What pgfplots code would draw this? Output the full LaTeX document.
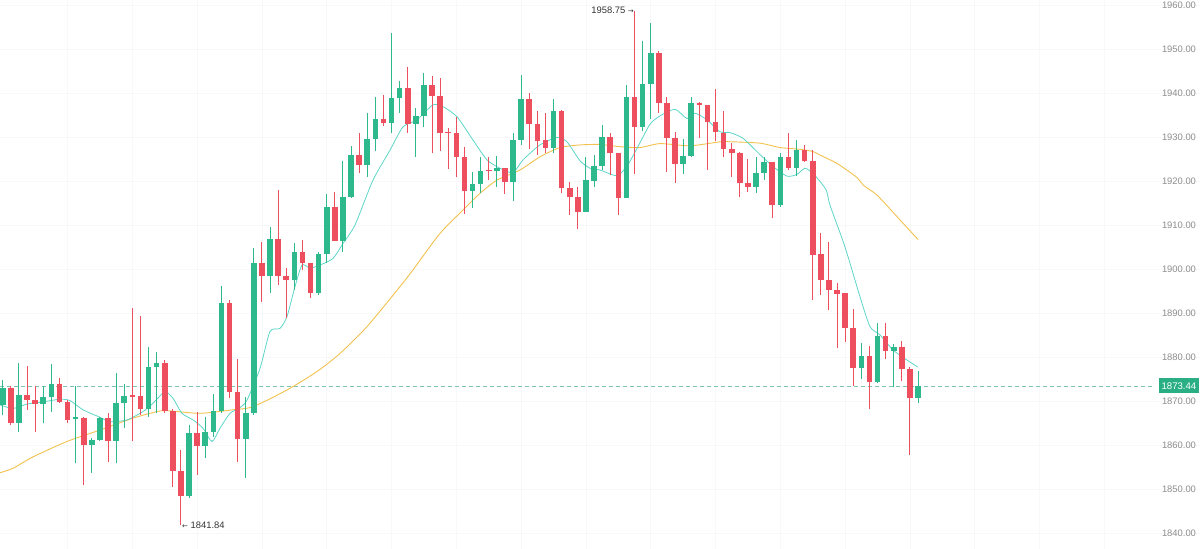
\documentclass[border=0pt]{standalone}
\usepackage{pgfplots}
\pgfplotsset{compat=1.18}
\usepackage{pgfplotstable}
\usepackage{fontspec}
\setmainfont{Liberation Sans}
\newfontfamily\dejavu{DejaVu Sans}
\definecolor{cgreen}{HTML}{2DB98B}
\definecolor{cred}{HTML}{EE4F5F}
\definecolor{cma}{HTML}{5DD5C8}
\definecolor{cyel}{HTML}{F2C14E}
\definecolor{cbox}{HTML}{2AAE84}
\definecolor{ctick}{HTML}{8C8C8C}
\definecolor{cgrid}{HTML}{F7F8F9}
\definecolor{cdash}{HTML}{7DC4B2}

% rising candles: index open high low close
\pgfplotstableread{
i o h l c
0 1869.1 1874.8 1866.8 1872.9
2 1865.1 1878.6 1863.0 1871.4
5 1869.3 1873.4 1864.9 1870.8
6 1870.8 1878.3 1867.6 1873.8
9 1865.9 1873.3 1855.8 1866.3
11 1860.0 1861.5 1853.6 1861.1
12 1861.1 1866.4 1861.0 1866.2
14 1860.9 1876.3 1855.8 1869.5
15 1869.5 1873.9 1863.8 1871.2
18 1868.1 1882.3 1866.4 1877.8
19 1877.8 1881.2 1867.2 1878.7
23 1848.4 1864.5 1847.9 1862.8
25 1859.8 1866.4 1857.0 1863.0
26 1863.0 1871.7 1861.9 1867.7
27 1867.7 1896.1 1867.2 1892.3
30 1861.3 1871.0 1852.4 1867.2
31 1867.2 1904.7 1866.8 1901.4
33 1898.4 1909.6 1894.6 1906.8
36 1897.5 1906.0 1895.2 1903.8
39 1894.5 1903.9 1894.1 1903.4
40 1903.4 1917.0 1901.4 1914.0
42 1906.4 1924.6 1903.9 1916.4
43 1916.4 1928.0 1916.2 1925.8
45 1923.6 1935.4 1921.0 1929.5
46 1929.5 1939.2 1926.9 1934.1
48 1933.1 1953.7 1930.8 1938.9
49 1938.9 1942.8 1935.5 1941.1
51 1933.0 1936.5 1925.4 1934.8
52 1934.8 1944.6 1932.2 1941.8
58 1917.8 1922.1 1913.8 1919.3
59 1919.3 1925.4 1917.2 1922.3
61 1922.2 1925.7 1918.7 1923.0
63 1919.7 1931.0 1915.5 1929.3
64 1929.3 1944.1 1928.2 1938.6
68 1927.6 1938.6 1926.3 1935.8
72 1913.0 1925.5 1913.0 1920.2
73 1920.1 1925.9 1918.7 1923.4
74 1923.4 1932.7 1922.5 1929.9
77 1916.1 1941.8 1916.1 1939.2
79 1932.3 1951.9 1931.3 1942.0
80 1942.0 1955.8 1934.2 1949.0
84 1923.9 1929.5 1921.7 1925.7
85 1925.7 1939.0 1925.5 1937.7
93 1918.7 1925.5 1917.2 1921.9
94 1921.9 1925.5 1920.2 1924.4
96 1914.5 1926.4 1914.2 1925.5
98 1922.9 1929.3 1921.1 1927.0
106 1877.4 1883.2 1874.9 1880.2
108 1874.4 1887.8 1874.0 1884.8
110 1881.4 1883.0 1873.1 1882.2
113 1870.6 1876.9 1869.5 1873.44
}\up

% falling candles: index open high low close
\pgfplotstableread{
i o h l c
1 1872.9 1873.3 1864.5 1865.1
3 1871.4 1878.0 1868.0 1870.2
4 1870.2 1873.4 1863.0 1869.3
7 1873.8 1875.2 1869.5 1869.8
8 1869.8 1870.2 1865.1 1865.7
10 1866.1 1866.4 1850.9 1860.0
13 1866.2 1867.3 1856.2 1860.9
16 1871.2 1891.1 1860.8 1871.0
17 1871.1 1889.3 1866.8 1868.1
20 1878.7 1879.3 1867.2 1867.8
21 1867.8 1868.1 1850.5 1854.2
22 1854.2 1858.9 1841.84 1848.4
24 1862.8 1867.6 1853.2 1859.8
28 1892.3 1893.0 1870.6 1872.1
29 1872.1 1879.5 1856.2 1861.3
32 1901.4 1906.2 1892.6 1898.4
34 1906.8 1918.0 1896.4 1898.4
35 1898.4 1900.2 1888.8 1897.5
37 1903.8 1906.6 1899.8 1901.3
38 1901.3 1901.3 1893.3 1894.5
41 1914.0 1917.6 1906.4 1906.4
44 1925.8 1931.0 1921.8 1923.6
47 1934.1 1939.5 1932.4 1933.1
50 1941.1 1946.0 1930.8 1933.0
53 1941.8 1943.9 1926.3 1939.4
54 1939.4 1943.3 1926.9 1930.8
55 1931.0 1932.0 1922.7 1930.8
56 1930.8 1934.5 1920.8 1925.5
57 1925.5 1927.7 1912.6 1917.8
60 1922.5 1925.5 1920.2 1922.2
62 1923.0 1923.0 1917.1 1919.7
65 1938.6 1940.1 1927.2 1932.9
66 1932.9 1935.8 1925.9 1929.2
67 1929.3 1935.4 1926.3 1927.6
69 1935.8 1936.1 1917.2 1918.3
70 1918.3 1919.8 1912.3 1916.3
71 1916.4 1918.7 1909.2 1913.0
75 1929.9 1930.8 1921.4 1926.3
76 1926.3 1926.3 1912.3 1916.1
78 1939.2 1958.75 1921.7 1932.3
81 1949.0 1949.6 1935.4 1937.7
82 1937.7 1939.2 1922.1 1929.7
83 1929.7 1931.2 1919.6 1923.9
86 1937.7 1938.0 1929.7 1937.2
87 1937.3 1937.3 1922.5 1933.3
88 1933.3 1940.8 1929.0 1931.1
89 1931.0 1935.8 1925.5 1927.2
90 1927.2 1928.6 1921.0 1926.3
91 1926.3 1926.7 1916.4 1919.5
92 1919.5 1924.9 1917.6 1918.7
95 1924.4 1924.4 1911.5 1914.5
97 1925.5 1931.0 1922.5 1922.9
99 1927.0 1928.2 1924.4 1924.6
100 1924.6 1927.0 1893.0 1903.2
101 1903.4 1908.1 1894.1 1897.5
102 1897.5 1906.2 1890.7 1895.2
103 1895.2 1896.9 1882.0 1894.3
104 1894.5 1894.5 1883.5 1886.7
105 1886.7 1891.0 1873.3 1877.4
107 1880.2 1882.4 1868.1 1874.4
109 1884.8 1887.8 1879.5 1881.4
111 1882.2 1883.7 1874.6 1877.2
112 1877.2 1877.8 1857.7 1870.6
}\down

% short moving average, x in pixels
\pgfplotstableread{
x v
0 1869.1
13 1868.3
27 1869.3
43 1869.8
60 1870.4
70 1870.1
83 1868.0
100 1866.3
110 1865.3
127 1865.7
143 1867.6
153 1869.5
165 1872.1
173 1870.6
182 1867.2
193 1865.7
203 1863.8
212 1860.8
220 1863.8
230 1867.2
240 1868.5
247 1870.2
260 1877.4
270 1885.8
280 1886.5
287 1889.2
295 1896.0
302 1900.9
310 1900.2
320 1900.9
333 1902.4
343 1905.8
355 1910.0
373 1920.2
390 1927.0
403 1932.3
417 1933.9
433 1937.3
443 1936.9
457 1934.6
473 1929.3
487 1924.8
500 1922.9
513 1921.9
523 1924.8
540 1928.2
557 1929.9
567 1928.9
580 1924.6
590 1922.9
600 1922.5
617 1921.2
627 1923.4
637 1927.4
650 1932.9
660 1934.8
675 1936.3
687 1934.2
695 1935.4
707 1933.9
720 1931.2
730 1931.0
743 1929.7
760 1926.0
773 1923.3
787 1921.1
797 1921.5
805 1922.9
814 1921.5
826 1918.0
830 1914.5
845 1905.0
860 1893.7
870 1886.9
880 1885.0
893 1881.6
907 1879.3
918 1877.7
}\mashort

% long moving average, x in pixels
\pgfplotstableread{
x v
0 1853.7
13 1854.7
33 1857.3
67 1860.8
100 1863.4
133 1866.1
157 1867.6
167 1867.8
200 1867.2
233 1868.0
253 1868.7
287 1872.5
317 1876.7
340 1880.8
367 1886.9
400 1896.0
413 1899.8
440 1908.1
463 1913.4
480 1917.2
497 1920.2
520 1922.5
540 1925.5
560 1927.6
580 1928.2
600 1928.3
620 1927.8
640 1927.6
660 1928.5
690 1928.0
720 1928.9
733 1928.9
760 1928.6
780 1927.6
800 1927.2
813 1926.7
820 1925.9
837 1924.0
857 1920.8
863 1919.1
877 1916.8
897 1911.9
918 1906.7
}\malong

\begin{document}
\begin{tikzpicture}
\useasboundingbox (0,0) rectangle (1200bp,549bp);
\begin{axis}[
  at={(0,0)}, anchor=south west,
  scale only axis, width=1200bp, height=549bp,
  xmin=0, xmax=1200, ymin=1836.36, ymax=1961.14,
  axis line style={draw=none},
  tick style={draw=none},
  major tick length=0pt,
  xtick={67.5,132.3,197.1,261.9,326.7,391.5,456.3,521.1,585.9,650.7,715.5,780.3,845.1,909.9,974.7,1039.5,1104.3},
  xticklabels={},
  ytick={1840,1850,...,1960},
  grid=major,
  grid style={cgrid, line width=0.6bp},
  yticklabel pos=right,
  yticklabel style={anchor=east, xshift=-0.5bp, text=ctick,
    font=\fontsize{9.4bp}{11bp}\selectfont,
    /pgf/number format/.cd, fixed, fixed zerofill, precision=2, 1000 sep={}, assume math mode=true},
  clip=true,
]
% dashed last-price line
\addplot[cdash, line width=0.7bp, dash pattern=on 3.5bp off 3.5bp] coordinates {(0,1873.44) (1153,1873.44)};

% moving averages
\addplot[cyel, line width=0.9bp, smooth, tension=0.4] table[x=x, y=v] {\malong};
\addplot[cma, line width=0.8bp, smooth, tension=0.4] table[x=x, y=v] {\mashort};

% wicks
\addplot[draw=none, mark=none,
  error bars/.cd, y dir=plus, y explicit, error mark=none,
  error bar style={draw=cgreen, line width=1bp, solid}]
  table[x expr=2.7+8.1*\thisrow{i}, y=l, y error plus expr=\thisrow{h}-\thisrow{l}] {\up};
\addplot[draw=none, mark=none,
  error bars/.cd, y dir=plus, y explicit, error mark=none,
  error bar style={draw=cred, line width=1bp, solid}]
  table[x expr=2.7+8.1*\thisrow{i}, y=l, y error plus expr=\thisrow{h}-\thisrow{l}] {\down};
% bodies
\addplot[draw=none, mark=none,
  error bars/.cd, y dir=plus, y explicit, error mark=none,
  error bar style={draw=cgreen, line width=5.6bp, solid}]
  table[x expr=2.7+8.1*\thisrow{i}, y=o, y error plus expr={max(\thisrow{c}-\thisrow{o},0.28)}] {\up};
\addplot[draw=none, mark=none,
  error bars/.cd, y dir=plus, y explicit, error mark=none,
  error bar style={draw=cred, line width=5.6bp, solid}]
  table[x expr=2.7+8.1*\thisrow{i}, y=c, y error plus expr={max(\thisrow{o}-\thisrow{c},0.28)}] {\down};

% annotations
\node[anchor=east, inner sep=0pt, text=black!80, font=\fontsize{9.4bp}{11bp}\selectfont]
  at (axis cs:634,1958.75) {1958.75 {\dejavu\fontsize{7bp}{8bp}\selectfont →}};
\node[anchor=west, inner sep=0pt, text=black!80, font=\fontsize{9.4bp}{11bp}\selectfont]
  at (axis cs:182,1841.84) {{\dejavu\fontsize{7bp}{8bp}\selectfont ←} 1841.84};
\node[anchor=east, fill=cbox, text=white, inner xsep=2.5bp, inner ysep=4bp,
  font=\fontsize{9.6bp}{11bp}\selectfont]
  at (axis cs:1199,1873.44) {1873.44};
\end{axis}
\end{tikzpicture}
\end{document}
